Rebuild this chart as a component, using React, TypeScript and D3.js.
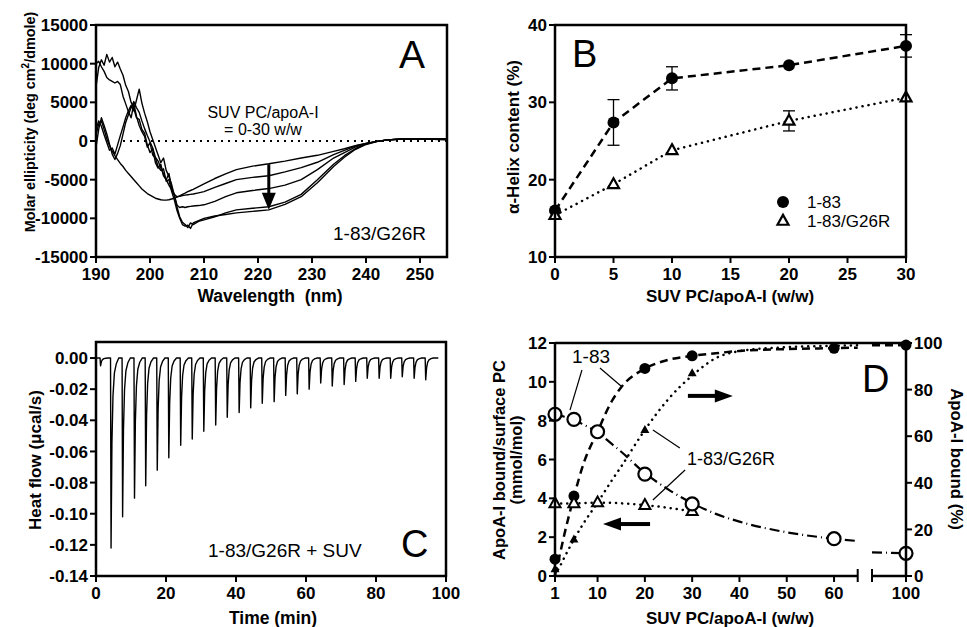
import React from "react";
import * as d3 from "d3";

const W = 967;
const H = 627;
const FONT = "'Liberation Sans', Arial, Helvetica, sans-serif";

// ---------- Panel A: CD spectra ----------
const WL = [
  190, 190.5, 191, 191.5, 192, 192.5, 193, 193.5, 194, 194.5, 195, 195.5, 196, 196.5, 197, 197.5, 198, 198.5,
  199, 199.5, 200, 200.5, 201, 201.5, 202, 202.5, 203, 203.5, 204, 204.5, 205, 205.5, 206, 206.5, 207, 207.5, 208,
  209, 210, 212, 214, 216, 219, 222, 225, 228, 231, 234, 236, 238, 240, 242, 244, 247, 250, 255,
];
const CD_0 = [
  800, 2200, 2600, 1500, 300, -600, -1300, -1900, -2400, -2900, -3300, -3800, -4200, -4600, -5000, -5400, -5800, -6200,
  -6500, -6800, -7000, -7200, -7400, -7500, -7600, -7650, -7650, -7600, -7500, -7400, -7250, -7100, -6900, -6750, -6550, -6400, -6250,
  -5900, -5550, -4850, -4250, -3700, -3250, -2950, -2600, -2200, -1850, -1350, -1000, -600, -300, -50, 150, 250, 250, 200,
];
const CD_5 = [
  -800, 1500, 3000, 2000, 900, -400, -1700, -2400, -1600, -600, 900, 2400, 3400, 4300, 5100, 4300, 3700, 2600,
  1600, 700, -100, -900, -2100, -2600, -3500, -4300, -5000, -5700, -6300, -6900, -7200, -7150, -7050, -7000, -6950, -6900, -6850,
  -6700, -6550, -6000, -5500, -5000, -4700, -4500, -4000, -3450, -2750, -1750, -1200, -650, -300, -50, 150, 250, 250, 200,
];
const CD_10 = [
  1500, 2600, 1900, 800, -200, -1200, -900, -1700, -500, 700, 1800, 3000, 3900, 4600, 3900, 5300, 6700, 4900,
  3600, 2500, 1200, 200, -800, -1800, -2800, -2200, -3800, -4600, -5600, -7000, -8300, -8600, -8500, -8600, -8500, -8450, -8400,
  -8350, -8250, -7800, -7200, -6700, -6400, -6150, -5700, -5000, -3700, -2200, -1500, -800, -350, -50, 150, 250, 250, 200,
];
const CD_20 = [
  7000, 9500, 10500, 9800, 11200, 10200, 10800, 9600, 10200, 9300, 8500, 7200, 6400, 5000, 4200, 3000, 2800, 1500,
  1000, -500, -1500, -1000, -2800, -3500, -3000, -4500, -5000, -4200, -6000, -7000, -8500, -9800, -10500, -10800, -11200, -10600, -10800,
  -10400, -10200, -9800, -9300, -8900, -8700, -8500, -7900, -6900, -5000, -3000, -1900, -1000, -400, -50, 150, 300, 300, 250,
];
const CD_30 = [
  10000, 10300, 9600, 9000, 8200, 7900, 7700, 7500, 7700, 7300, 5800, 4800, 3800, 3000, 4800, 3200, 2000, 1200,
  600, -800, -200, -1800, -2200, -3300, -3800, -3600, -5200, -5000, -6500, -7600, -9000, -10000, -10800, -11000, -10900, -11300, -10600,
  -10300, -10000, -9700, -9500, -9300, -9100, -8900, -8200, -7200, -5400, -3300, -2100, -1100, -450, -80, 150, 250, 300, 250,
];
const CD_SERIES = [CD_0, CD_5, CD_10, CD_20, CD_30];
const A_XTICKS = [190, 200, 210, 220, 230, 240, 250];
const A_YTICKS = [15000, 10000, 5000, 0, -5000, -10000, -15000];
const A_ARROW = { wl: 222, from: -3000, to: -8900 };

// ---------- Panel B: helix content ----------
const B_RATIO = [0, 5, 10, 20, 30];
const B_WT = [16.0, 27.4, 33.1, 34.8, 37.3];
const B_WT_ERR = [0, 2.95, 1.5, 0, 1.45];
const B_G26R = [15.4, 19.4, 23.8, 27.6, 30.6];
const B_G26R_ERR = [0, 0, 0, 1.3, 0];
const B_XTICKS = [0, 5, 10, 15, 20, 25, 30];
const B_YTICKS = [10, 20, 30, 40];

// ---------- Panel C: ITC trace ----------
const ITC_T = [
  1.3, 4.3, 7.6, 11.0, 14.2, 17.5, 20.8, 24.2, 27.5, 30.8, 34.2, 37.5, 40.9, 44.2, 47.5,
  50.9, 54.2, 57.5, 60.9, 64.2, 67.5, 70.9, 74.2, 77.5, 80.9, 84.2, 87.5, 90.9, 94.2,
];
const ITC_PEAK = [
  -0.005, -0.122, -0.102, -0.09, -0.082, -0.072, -0.064, -0.056, -0.052, -0.047, -0.043, -0.038, -0.035, -0.032, -0.029,
  -0.028, -0.024, -0.023, -0.02, -0.016, -0.018, -0.017, -0.015, -0.013, -0.013, -0.013, -0.012, -0.013, -0.014,
];
const PEAK_DT = [-0.15, 0, 0.25, 0.55, 0.95, 1.5, 2.2];
const PEAK_FRAC = [0, 1, 0.45, 0.2, 0.08, 0.03, 0];
const C_XTICKS = [0, 20, 40, 60, 80, 100];
const C_YTICKS = [0, -0.02, -0.04, -0.06, -0.08, -0.1, -0.12, -0.14];

// ---------- Panel D: binding ----------
const D_RATIO = [1, 5, 10, 20, 30, 60, 100];
const D_WT_PC = [8.33, 8.07, 7.43, 5.25, 3.71, 1.92, 1.17];
const D_WT_BOUND = [7.2, 34.3, 62, 89.1, 94.5, 97.7, 99.1];
const D_G26R_RATIO = [1, 5, 10, 20, 30];
const D_G26R_PC = [3.74, 3.74, 3.78, 3.65, 3.33];
const D_G26R_BOUND = [2.9, 15.7, 31, 62.7, 87];
const D_FIT_X = [1, 2, 3, 5, 7, 10, 13, 15, 20, 25, 30, 35, 40, 50, 60, 65];
const D_FIT_WT_BOUND = [0.5, 9, 18, 34, 48, 62, 75, 81, 89, 92.8, 94.5, 95.6, 96.6, 97.4, 97.8, 98];
const D_FIT_G26R_BOUND = [0.5, 4, 8, 15.7, 22.5, 31.5, 41, 47, 62.7, 76, 86, 93.5, 96.5, 98.2, 98.8, 99];
const D_FIT_WT_PC = [8.33, 8.27, 8.2, 8.05, 7.8, 7.4, 6.8, 6.4, 5.3, 4.45, 3.75, 3.2, 2.8, 2.25, 1.92, 1.8];
const D_TAIL_X = [92.8, 100];
const D_TAIL_WT_BOUND = [99.0, 99.1];
const D_TAIL_WT_PC = [1.22, 1.17];
const D_XTICKS = [1, 10, 20, 30, 40, 50, 60];
const D_YL_TICKS = [0, 2, 4, 6, 8, 10, 12];
const D_YR_TICKS = [0, 20, 40, 60, 80, 100];

const LW = 2.5;

function Box({ x0, x1, y0, y1 }: any) {
  return <rect x={x0} y={y0} width={x1 - x0} height={y1 - y0} fill="none" stroke="#000" strokeWidth={LW} />;
}

function LeftTicks({ scale, ticks, x, fmt, size = 17 }: any) {
  return (
    <g>
      {ticks.map((t: number) => (
        <g key={t}>
          <line x1={x - 6} x2={x} y1={scale(t)} y2={scale(t)} stroke="#000" strokeWidth={2} />
          <text x={x - 8} y={scale(t)} dy="0.36em" textAnchor="end" fontWeight="bold" fontSize={size}>
            {fmt ? fmt(t) : t}
          </text>
        </g>
      ))}
    </g>
  );
}

function BottomTicks({ scale, ticks, y, size = 17 }: any) {
  return (
    <g>
      {ticks.map((t: number) => (
        <g key={t}>
          <line x1={scale(t)} x2={scale(t)} y1={y} y2={y + 6} stroke="#000" strokeWidth={2} />
          <text x={scale(t)} y={y + 23} textAnchor="middle" fontWeight="bold" fontSize={size}>
            {t}
          </text>
        </g>
      ))}
    </g>
  );
}

function triPath(cx: number, cy: number, s: number) {
  const h = s * 0.9;
  return `M${cx},${cy - h * 0.62}L${cx + s / 2},${cy + h * 0.38}L${cx - s / 2},${cy + h * 0.38}Z`;
}

function Arrow({ x1, y1, x2, y2, head = 18, half = 7, width = 4 }: any) {
  const dx = x2 - x1;
  const dy = y2 - y1;
  const L = Math.hypot(dx, dy);
  const ux = dx / L;
  const uy = dy / L;
  const bx = x2 - ux * head;
  const by = y2 - uy * head;
  const px = -uy * half;
  const py = ux * half;
  return (
    <g>
      <line x1={x1} y1={y1} x2={bx + ux * 2} y2={by + uy * 2} stroke="#000" strokeWidth={width} />
      <path d={`M${x2},${y2}L${bx + px},${by + py}L${bx - px},${by - py}Z`} fill="#000" />
    </g>
  );
}

function PanelA() {
  const x = d3.scaleLinear().domain([190, 255]).range([96, 447]);
  const y = d3.scaleLinear().domain([-15000, 15000]).range([257, 25]);
  const line = d3
    .line<number>()
    .x((_, i) => x(WL[i]))
    .y((d) => y(d));
  return (
    <g>
      <line x1={x(195)} x2={x(255)} y1={y(0)} y2={y(0)} stroke="#000" strokeWidth={2} strokeDasharray="2,5" />
      {CD_SERIES.map((s, i) => (
        <path key={i} d={line(s) || ""} fill="none" stroke="#000" strokeWidth={1.4} strokeLinejoin="round" />
      ))}
      <Arrow x1={x(A_ARROW.wl)} y1={y(A_ARROW.from)} x2={x(A_ARROW.wl)} y2={y(A_ARROW.to)} head={17} half={7} width={3} />
      <Box x0={96} x1={447} y0={25} y1={257} />
      <LeftTicks scale={y} ticks={A_YTICKS} x={96} />
      <BottomTicks scale={x} ticks={A_XTICKS} y={257} />
      <text x={270} y={302} textAnchor="middle" fontWeight="bold" fontSize={17.5}>
        {"Wavelength\u00a0 (nm)"}
      </text>
      <text transform="translate(35,122) rotate(-90)" textAnchor="middle" fontWeight="bold" fontSize={14.4}>
        Molar ellipticity (deg cm<tspan dy={-6} fontSize={10}>2</tspan>
        <tspan dy={6}>/dmole)</tspan>
      </text>
      <text x={263} y={118} textAnchor="middle" fontSize={16}>SUV PC/apoA-I</text>
      <text x={263} y={135} textAnchor="middle" fontSize={16}>= 0-30 w/w</text>
      <text x={333} y={240} fontSize={19}>1-83/G26R</text>
      <text x={399} y={68} fontSize={39}>A</text>
    </g>
  );
}

function PanelB() {
  const x = d3.scaleLinear().domain([0, 30]).range([555, 906]);
  const y = d3.scaleLinear().domain([10, 40]).range([257, 25]);
  const line = d3
    .line<number>()
    .x((_, i) => x(B_RATIO[i]))
    .y((d) => y(d));
  const errs = (vals: number[], err: number[]) =>
    vals.map((v, i) =>
      err[i] > 0 ? (
        <g key={i} stroke="#000" strokeWidth={1.3}>
          <line x1={x(B_RATIO[i])} x2={x(B_RATIO[i])} y1={y(v - err[i])} y2={y(v + err[i])} />
          <line x1={x(B_RATIO[i]) - 6} x2={x(B_RATIO[i]) + 6} y1={y(v - err[i])} y2={y(v - err[i])} />
          <line x1={x(B_RATIO[i]) - 6} x2={x(B_RATIO[i]) + 6} y1={y(v + err[i])} y2={y(v + err[i])} />
        </g>
      ) : null
    );
  return (
    <g>
      <path d={line(B_G26R) || ""} fill="none" stroke="#000" strokeWidth={2.5} strokeDasharray="0.1,6" strokeLinecap="round" />
      <path d={line(B_WT) || ""} fill="none" stroke="#000" strokeWidth={2.5} strokeDasharray="8,5" />
      {errs(B_WT, B_WT_ERR)}
      {errs(B_G26R, B_G26R_ERR)}
      {B_WT.map((v, i) => (
        <circle key={i} cx={x(B_RATIO[i])} cy={y(v)} r={6} fill="#000" />
      ))}
      {B_G26R.map((v, i) => (
        <path key={i} d={triPath(x(B_RATIO[i]), y(v), 11)} fill="#fff" stroke="#000" strokeWidth={2.2} />
      ))}
      <Box x0={555} x1={906} y0={25} y1={257} />
      <LeftTicks scale={y} ticks={B_YTICKS} x={555} />
      <BottomTicks scale={x} ticks={B_XTICKS} y={257} />
      <text x={730} y={302} textAnchor="middle" fontWeight="bold" fontSize={17}>
        SUV PC/apoA-I (w/w)
      </text>
      <text transform="translate(519,137) rotate(-90)" textAnchor="middle" fontWeight="bold" fontSize={17}>
        α-Helix content (%)
      </text>
      <circle cx={783} cy={202} r={6} fill="#000" />
      <text x={807} y={208} fontSize={17}>1-83</text>
      <path d={triPath(783, 221, 11)} fill="#fff" stroke="#000" strokeWidth={2.2} />
      <text x={807} y={227} fontSize={17}>1-83/G26R</text>
      <text x={572} y={67} fontSize={38}>B</text>
    </g>
  );
}

function PanelC() {
  const x = d3.scaleLinear().domain([0, 100]).range([96, 446]);
  const y = d3.scaleLinear().domain([-0.14, 0.0103]).range([576, 342]);
  const pts: [number, number][] = [[0.3, 0]];
  ITC_T.forEach((t, i) => PEAK_DT.forEach((dt, j) => pts.push([t + dt, ITC_PEAK[i] * PEAK_FRAC[j]])));
  pts.push([97.8, 0]);
  const line = d3
    .line<[number, number]>()
    .x((d) => x(d[0]))
    .y((d) => y(d[1]));
  return (
    <g>
      <path d={line(pts) || ""} fill="none" stroke="#000" strokeWidth={1.4} strokeLinejoin="round" />
      <Box x0={96} x1={446} y0={342} y1={576} />
      <LeftTicks scale={y} ticks={C_YTICKS} x={96} fmt={(t: number) => t.toFixed(2)} />
      <BottomTicks scale={x} ticks={C_XTICKS} y={576} />
      <text x={273} y={624} textAnchor="middle" fontWeight="bold" fontSize={17.5}>
        Time (min)
      </text>
      <text transform="translate(41,460) rotate(-90)" textAnchor="middle" fontWeight="bold" fontSize={17}>
        Heat flow (μcal/s)
      </text>
      <text x={208} y={557} fontSize={19}>1-83/G26R + SUV</text>
      <text x={401} y={557} fontSize={38}>C</text>
    </g>
  );
}

function PanelD() {
  const x1 = d3.scaleLinear().domain([1, 65]).range([555, 857.7]);
  const x2 = d3.scaleLinear().domain([92.8, 100]).range([872, 906]);
  const xs = (v: number) => (v > 80 ? x2(v) : x1(v));
  const yl = d3.scaleLinear().domain([0, 12]).range([576, 343]);
  const yr = d3.scaleLinear().domain([0, 100]).range([576, 343]);
  const mk = (xv: number[], sc: any) =>
    d3
      .line<number>()
      .x((_, i) => xs(xv[i]))
      .y((d) => sc(d))
      .curve(d3.curveMonotoneX);
  const dashed = "8,5";
  const dotted = "0.1,6";
  const dashdot = "10,4,1,4";
  const ann = (a: number, b: number, c: number, d: number) => (
    <line x1={x1(a)} y1={yr(b)} x2={x1(c)} y2={yr(d)} stroke="#000" strokeWidth={1.2} />
  );
  return (
    <g>
      {/* fits */}
      <path d={mk(D_FIT_X, yr)(D_FIT_G26R_BOUND) || ""} fill="none" stroke="#000" strokeWidth={2.5} strokeDasharray={dotted} strokeLinecap="round" />
      <path d={mk(D_FIT_X, yr)(D_FIT_WT_BOUND) || ""} fill="none" stroke="#000" strokeWidth={2.5} strokeDasharray={dashed} />
      <path d={mk(D_FIT_X, yl)(D_FIT_WT_PC) || ""} fill="none" stroke="#000" strokeWidth={2.2} strokeDasharray={dashdot} />
      <path d={mk(D_G26R_RATIO, yl)(D_G26R_PC) || ""} fill="none" stroke="#000" strokeWidth={2.5} strokeDasharray={dotted} strokeLinecap="round" />
      <path d={mk(D_TAIL_X, yr)(D_TAIL_WT_BOUND) || ""} fill="none" stroke="#000" strokeWidth={2.5} strokeDasharray={dashed} />
      <path d={mk(D_TAIL_X, yl)(D_TAIL_WT_PC) || ""} fill="none" stroke="#000" strokeWidth={2.2} strokeDasharray={dashdot} />
      {/* annotations */}
      {ann(6.7, 88.4, 4.17, 71.2)}
      {ann(10.5, 89.3, 15.2, 81.1)}
      {ann(27.4, 54.9, 21.7, 62.7)}
      {ann(28.5, 45.5, 21.7, 32.6)}
      <text x={x1(4.6)} y={yr(91.4)} fontSize={19}>1-83</text>
      <text x={x1(28.9)} y={yr(47.6)} fontSize={18}>1-83/G26R</text>
      <Arrow x1={x1(29.1)} y1={yr(77.3)} x2={x1(38.6)} y2={yr(77.3)} head={18} half={6.5} width={4} />
      <Arrow x1={x1(21.1)} y1={yr(22.3)} x2={x1(11.15)} y2={yr(22.3)} head={18} half={6.5} width={4} />
      {/* markers */}
      {D_G26R_BOUND.map((v, i) => (
        <path key={"ft" + i} d={triPath(xs(D_G26R_RATIO[i]), yr(v), 9)} fill="#000" />
      ))}
      {D_WT_BOUND.map((v, i) => (
        <circle key={"fc" + i} cx={xs(D_RATIO[i])} cy={yr(v)} r={5.5} fill="#000" />
      ))}
      {D_G26R_PC.map((v, i) => (
        <path key={"ot" + i} d={triPath(xs(D_G26R_RATIO[i]), yl(v), 11)} fill="#fff" stroke="#000" strokeWidth={2} />
      ))}
      {D_WT_PC.map((v, i) => (
        <circle key={"oc" + i} cx={xs(D_RATIO[i])} cy={yl(v)} r={6.5} fill="#fff" stroke="#000" strokeWidth={2.2} />
      ))}
      {/* axes */}
      <line x1={555} x2={906} y1={343} y2={343} stroke="#000" strokeWidth={LW} />
      <line x1={555} x2={555} y1={343} y2={577} stroke="#000" strokeWidth={LW} />
      <line x1={906} x2={906} y1={343} y2={577} stroke="#000" strokeWidth={LW} />
      <line x1={555} x2={857.7} y1={576} y2={576} stroke="#000" strokeWidth={LW} />
      <line x1={872} x2={906} y1={576} y2={576} stroke="#000" strokeWidth={LW} />
      <line x1={857.7} x2={857.7} y1={569} y2={582} stroke="#000" strokeWidth={2} />
      <line x1={872} x2={872} y1={569} y2={582} stroke="#000" strokeWidth={2} />
      <LeftTicks scale={yl} ticks={D_YL_TICKS} x={555} />
      {D_YR_TICKS.map((t) => (
        <g key={t}>
          <line x1={906} x2={912} y1={yr(t)} y2={yr(t)} stroke="#000" strokeWidth={2} />
          <text x={914} y={yr(t)} dy="0.36em" fontWeight="bold" fontSize={17}>
            {t}
          </text>
        </g>
      ))}
      <BottomTicks scale={x1} ticks={D_XTICKS} y={576} />
      <BottomTicks scale={x2} ticks={[100]} y={576} />
      <text x={730} y={624} textAnchor="middle" fontWeight="bold" fontSize={17}>
        SUV PC/apoA-I (w/w)
      </text>
      <text transform="translate(505,460) rotate(-90)" textAnchor="middle" fontWeight="bold" fontSize={16.5}>
        ApoA-I bound/surface PC
      </text>
      <text transform="translate(522,460) rotate(-90)" textAnchor="middle" fontWeight="bold" fontSize={16.5}>
        (mmol/mol)
      </text>
      <text transform="translate(951,459) rotate(90)" textAnchor="middle" fontWeight="bold" fontSize={16.8}>
        ApoA-I bound (%)
      </text>
      <text x={862} y={392} fontSize={38}>D</text>
    </g>
  );
}

export default function App() {
  return (
    <svg
      width={W}
      height={H}
      style={{ position: "absolute", left: 0, top: 0, background: "#fff" }}
      fontFamily={FONT}
    >
      <PanelA />
      <PanelB />
      <PanelC />
      <PanelD />
    </svg>
  );
}
